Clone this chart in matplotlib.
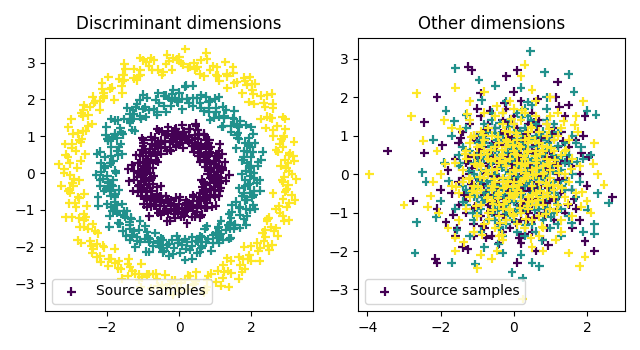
import numpy as np
import matplotlib
matplotlib.use("Agg")
import matplotlib.pyplot as plt

# ---------------- Discriminant dimensions (rings), polar readings ----------------
ang_c1 = [1,3,4,8,10,12,13,17,19,20,22,25,27,28,31,33,35,36,39,41,
          43,44,47,49,50,53,55,57,58,61,63,64,67,69,71,72,75,77,79,80,
          83,85,86,89,91,93,95,96,99,101,103,104,107,109,111,113,114,117,119,120,
          123,125,127,128,131,133,134,137,139,141,142,145,147,149,150,153,155,157,158,161,
          163,164,167,169,171,172,175,177,179,180,183,185,187,188,191,193,194,197,199,201,
          202,205,207,209,210,213,215,216,219,221,223,224,227,229,231,232,235,237,239,240,
          243,245,246,249,251,253,254,257,259,261,262,265,267,269,270,273,275,276,279,281,
          283,284,287,289,291,292,295,297,299,300,303,305,306,309,311,313,314,317,319,321,
          322,325,327,329,330,333,335,336,339,341,343,344,347,349,351,352,355,357,359,6,
          15,24,38,52,66,88,97,110,126,144,160,174,189,206,226,248,264,286,308,338,
          2.5,7.5,11.5,18,23.5,29,34,40.5,45.5,51,56,60,65.5,70,74,78.5,84,90,94,98,
          102,106,112,115.5,121,124,130,135.5,138,143,148,152,156,159.5,166,170,176,181.5,186,190,
          196,200,204,208,212,218,222,225.5,230,234,238,242,247,250,256,260,263,268,272,277,
          280,285,290,294,298,302,307,310,315,318,324,328,332,337,340,346,350,354,358,5,
          14,32,48,68,92,118,140,168,198,228,252,278,296,320,342,26,76,132,184,236]
rad_c1 = [1.05,0.82,1.21,0.97,1.12,0.74,1.30,0.91,1.02,1.18,0.88,1.09,0.66,1.25,0.95,1.01,1.37,0.84,1.14,0.99,
          0.78,1.08,1.23,0.93,1.16,1.00,0.71,1.27,0.89,1.06,1.19,0.81,1.11,0.97,1.42,0.86,1.03,1.24,0.92,0.69,
          1.13,0.98,1.31,0.83,1.07,0.94,1.20,0.76,1.15,1.04,0.90,1.28,0.87,1.10,0.64,1.22,0.96,1.34,0.80,1.01,
          0.93,1.17,0.85,1.26,0.99,0.72,1.09,1.39,0.88,1.05,0.79,1.14,1.00,1.21,0.91,0.67,1.12,0.95,1.29,0.84,
          1.06,0.97,1.18,0.75,1.33,0.90,1.03,1.24,0.82,1.10,0.98,1.16,0.70,1.27,0.94,1.08,0.86,1.19,1.02,1.36,
          0.77,1.13,0.92,1.05,1.23,0.89,0.63,1.15,1.00,1.30,0.85,1.07,0.96,1.20,0.81,1.11,1.44,0.93,1.04,0.73,
          1.17,0.99,1.26,0.87,1.09,0.78,1.14,1.01,1.32,0.90,0.68,1.22,0.97,1.06,0.83,1.19,0.95,1.12,1.38,0.88,
          1.03,0.76,1.25,0.92,1.10,0.99,1.16,0.84,1.29,1.02,0.71,1.08,0.94,1.21,0.86,1.13,1.00,0.80,1.35,0.96,
          1.07,0.89,1.18,0.74,1.27,0.98,1.11,0.82,1.04,1.23,0.91,0.65,1.15,0.97,1.31,0.87,1.09,1.01,0.79,1.20,
          0.93,1.14,1.05,0.85,1.28,0.95,0.72,1.12,1.00,1.24,0.88,1.06,1.40,0.90,1.17,0.83,1.03,0.97,1.19,0.77,
          0.96,1.19,0.79,1.08,1.31,0.88,1.02,0.70,1.15,0.93,1.24,0.85,1.06,1.37,0.91,0.99,1.13,0.76,1.21,1.00,
          0.87,1.10,0.68,1.27,0.95,1.04,1.17,0.82,1.33,0.92,1.07,0.74,1.20,0.98,1.12,0.86,1.41,0.94,1.03,0.78,
          1.16,0.90,1.25,1.01,0.72,1.14,0.97,1.29,0.84,1.09,0.93,1.22,0.80,1.05,1.35,0.89,1.11,0.99,0.66,1.18,
          1.02,0.83,1.26,0.95,1.08,0.77,1.19,0.91,1.30,1.00,0.86,1.13,0.97,1.23,0.73,1.06,0.94,1.16,1.39,0.88,
          1.04,0.81,1.20,0.96,1.10,0.69,1.28,0.92,1.15,1.01,0.85,1.07,1.34,0.90,1.12,0.79,1.24,0.98,1.03,0.87]

ang_c2 = [0,2,5,6,9,11,12,16,18,21,23,24,26,30,32,34,37,38,40,42,
          45,46,48,51,54,56,59,60,62,65,66,68,70,73,76,78,81,82,84,87,
          90,92,94,97,98,100,102,105,106,108,112,115,116,118,121,122,124,126,129,132,
          135,136,138,140,143,146,148,151,152,154,156,159,162,165,166,168,170,173,176,178,
          181,182,184,186,189,190,192,195,196,198,200,203,204,206,208,211,212,214,217,218,
          220,222,225,226,228,230,233,234,236,238,241,242,244,247,248,250,252,255,256,258,
          260,263,264,266,268,271,272,274,277,278,280,282,285,286,288,290,293,294,296,298,
          301,302,304,307,308,310,312,315,316,318,320,323,324,326,328,331,332,334,337,338,
          340,342,345,346,348,350,353,354,356,358,14,29,44,57,74,88,103,119,134,149,
          164,179,194,209,223,239,253,269,283,299,313,329,344,8,35,63,93,127,157,187,
          1,7.5,13.5,19.5,27.5,33,41,47,53,58,63.5,71.5,79.5,85.5,91,96,101,110,113.5,120,
          125,130.5,137,141.5,145,150,155,160.5,167,171.5,175,180,185,188,193,197.5,201.5,207,210,215.5,
          219,224,229,231.5,237,240,245.5,249,254,257,262,265.5,270,275,279,284,287,291.5,295,300,
          303,306,309,314,317,321.5,325,330,335,339,343,347,351.5,355,359,22,50,95,142,199,
          246,289,333,17,67,111,153,216,259,305,349,39,86,172,232,275.5,318.5,4,128,191]
rad_c2 = [2.08,1.85,2.19,1.96,2.31,1.79,2.04,2.12,1.90,2.25,1.72,2.01,2.15,1.88,2.36,1.97,2.07,1.83,2.22,1.93,
          2.11,1.76,2.28,2.00,1.89,2.17,1.68,2.05,2.33,1.94,2.13,1.81,2.21,1.99,2.09,1.86,2.40,1.92,2.03,1.74,
          2.18,1.95,2.27,1.84,2.06,2.14,1.70,2.24,1.98,2.10,1.87,2.35,1.91,2.02,1.78,2.20,2.16,1.82,2.29,1.97,
          1.93,2.12,1.75,2.23,2.04,1.88,2.38,1.96,2.08,1.80,2.15,2.01,1.66,2.26,1.94,2.11,1.85,2.19,2.06,1.77,
          2.30,1.99,2.13,1.83,2.21,1.91,2.07,1.73,2.34,2.00,1.89,2.17,1.95,2.09,1.79,2.25,2.03,1.86,2.42,1.92,
          2.14,1.81,2.22,1.98,2.05,1.69,2.28,1.90,2.10,2.18,1.84,2.02,1.96,2.32,1.76,2.12,1.93,2.07,1.87,2.20,
          1.99,2.26,1.82,2.04,1.71,2.16,1.95,2.37,1.89,2.11,2.00,1.78,2.23,1.94,2.08,1.85,2.29,1.97,2.13,1.64,
          2.06,1.91,2.19,1.83,2.27,2.01,1.74,2.15,1.96,2.09,1.88,2.33,1.80,2.03,2.21,1.92,2.10,1.77,2.24,1.98,
          1.86,2.14,2.05,1.72,2.30,1.93,2.17,1.84,2.07,1.99,2.39,1.90,2.12,1.79,2.20,2.02,1.87,2.26,1.95,2.08,
          1.75,2.18,1.97,2.11,1.82,2.35,2.00,1.89,2.22,1.94,2.06,1.70,2.16,1.91,2.28,1.85,2.04,2.13,1.81,1.98,
          1.97,2.21,1.84,2.09,2.32,1.90,2.03,1.73,2.16,1.95,2.26,1.87,2.07,2.38,1.92,2.00,2.14,1.78,2.23,2.01,
          1.88,2.11,1.69,2.28,1.96,2.05,2.18,1.83,2.34,1.93,2.08,1.75,2.20,1.99,2.13,1.86,2.41,1.94,2.04,1.79,
          2.17,1.91,2.25,2.02,1.72,2.15,1.98,2.30,1.85,2.10,1.94,2.22,1.81,2.06,2.36,1.89,2.12,2.00,1.67,2.19,
          2.03,1.84,2.27,1.96,2.09,1.77,2.20,1.92,2.31,2.01,1.87,2.14,1.98,2.24,1.74,2.07,1.95,2.17,2.39,1.89,
          2.05,1.82,2.21,1.97,2.11,1.70,2.29,1.93,2.16,2.02,1.86,2.08,2.35,1.91,2.13,1.80,2.25,1.99,2.04,1.88]

ang_c3 = [1,4,6,7,10,13,15,16,19,22,24,25,28,31,33,34,37,40,42,43,
          46,49,51,52,55,58,60,61,64,67,69,70,73,76,78,79,82,85,87,88,
          91,94,96,97,100,103,105,106,109,112,114,115,118,121,123,124,127,130,132,133,
          136,139,141,142,145,148,150,151,154,157,159,160,163,166,168,169,172,175,177,178,
          181,184,186,187,190,193,195,196,199,202,204,205,208,211,213,214,217,220,222,223,
          226,229,231,232,235,238,240,241,244,247,249,250,253,256,258,259,262,265,267,268,
          271,274,276,277,280,283,285,286,289,292,294,295,298,301,303,304,307,310,312,313,
          316,319,321,322,325,328,330,331,334,337,339,340,343,346,348,349,352,355,357,358,
          9,21,36,48,63,75,90,102,117,129,144,156,171,183,198,210,225,237,252,264,
          279,291,306,318,333,345,18,54,81,108,138,165,192,219,246,273,300,327,354,30,
          2.5,8.5,12,18.5,26.5,32,39,45,50,57,62.5,68,72,77,84,89,93,99,104,111,
          116,120,126,131,135,140,147,153,158,162,167,173,180,185,189,194,201,206,209,216,
          221,224,228,234,239,243,248,251,255,261,266,270,275,278,282,288,293,297,300,305,
          309,315,320,324,329,332,336,342,347,351,356,359.5,14,41,66,95,122,149,176,203,
          230,257,284,311,338,27,53,80,107,134,161,188,215,242,269,296,323,350,5,113]
rad_c3 = [3.04,2.83,3.21,2.95,3.12,2.76,3.30,2.90,3.07,3.18,2.86,3.01,3.25,2.93,2.70,3.14,2.98,3.35,2.81,3.09,
          2.97,3.22,2.79,3.05,3.16,2.88,2.67,3.11,3.00,3.28,2.85,3.06,2.94,3.19,2.74,3.13,3.02,2.89,3.38,2.96,
          3.08,2.82,3.24,2.99,2.72,3.15,2.91,3.03,3.31,2.87,3.10,2.78,3.20,2.95,3.06,2.84,3.27,3.00,2.69,3.13,
          2.92,3.17,3.04,2.80,3.23,2.97,3.09,2.75,3.33,2.90,3.01,3.14,2.86,3.26,2.93,2.65,3.11,3.05,2.83,3.19,
          3.02,2.77,3.29,2.96,3.07,2.88,3.16,2.99,2.71,3.21,3.03,2.85,3.12,2.94,3.36,2.81,3.08,2.98,3.24,2.89,
          3.15,2.73,3.00,3.19,2.92,3.06,2.84,3.28,2.97,2.68,3.10,3.02,2.87,3.22,2.95,3.13,2.79,3.04,3.32,2.91,
          2.98,3.17,2.82,3.07,2.74,3.25,3.01,2.90,3.14,2.86,3.39,2.96,3.09,2.78,3.20,3.03,2.93,3.11,2.70,3.27,
          3.05,2.88,3.16,2.99,2.83,3.23,2.94,3.08,2.76,3.30,3.00,2.85,3.12,2.97,2.66,3.18,3.02,2.89,3.26,2.92,
          3.10,2.80,3.21,3.04,2.95,2.72,3.15,2.87,3.34,2.98,3.06,2.84,3.19,2.93,3.01,2.77,3.24,3.09,2.90,3.13,
          2.96,3.28,2.82,3.03,2.75,3.17,2.99,3.11,2.86,3.22,2.94,3.07,2.69,3.14,3.00,2.91,3.31,2.85,3.05,2.97,
          2.98,3.20,2.81,3.07,3.29,2.89,3.02,2.73,3.15,2.94,3.24,2.86,3.05,3.36,2.91,2.99,3.12,2.77,3.22,3.00,
          2.87,3.09,2.68,3.26,2.95,3.04,3.17,2.83,3.32,2.92,3.06,2.75,3.19,2.97,3.11,2.85,3.37,2.93,3.03,2.79,
          3.16,2.90,3.25,3.01,2.71,3.14,2.96,3.28,2.84,3.08,2.93,3.21,2.80,3.05,3.33,2.88,3.10,2.99,2.67,3.18,
          3.02,2.82,3.27,2.95,3.08,2.76,3.19,2.91,3.30,3.00,2.86,3.13,2.97,3.23,2.74,3.06,2.94,3.16,3.35,2.88,
          3.04,2.81,3.20,2.96,3.10,2.70,3.27,2.92,3.15,3.01,2.85,3.07,3.31,2.90,3.12,2.79,3.24,2.98,3.03,2.87]

# ---------------- Other dimensions (noise), (x, y) readings ----------------
other_c1 = [(-3.45,0.6),(-2.75,-0.7),(-2.45,1.35),(-2.1,2.0),(-2.15,-2.2),(-2.1,-2.3),(-1.25,2.8),(-1.15,2.7),(0.1,2.7),(2.7,-0.6),
(2.2,-2.0),(1.95,-1.75),(0.1,-2.3),(-2.45,0.55),(-2.1,-0.9),(-1.85,-1.25),(-1.55,-1.4),(-1.4,-1.9),(-1.1,-1.6),(1.2,2.4),
(-0.2,2.55),(0.0,2.15),(0.65,1.95),(1.15,2.0),(1.95,1.5),(2.05,0.45),(1.5,0.7),(1.8,-1.2),(1.6,-1.4),(0.9,-1.4),
(0.3,-1.55),(-0.5,-1.05),(-0.9,-0.8),(-0.3,1.4),(0.4,0.9),(-0.7,0.3),(0.2,-0.4),(0.8,0.1),(-1.2,0.5),(1.1,-0.3),
(-0.1,0.05),(0.5,-0.8),(-0.4,-0.3),(1.3,1.1),(-1.5,-0.2),(0.7,1.4),(-0.8,1.0),(0.0,-1.0),(1.6,0.2),(-0.6,-1.6),
(0.3,0.4),(-0.2,-0.6),(0.9,0.6),(-1.0,-0.1),(0.6,-0.2),(-0.3,0.8),(1.2,-0.9),(-0.9,1.5),(0.1,1.2),(-1.3,-0.7),
(0.4,-1.2),(-0.5,0.1),(0.8,-0.5),(-0.1,0.6),(1.0,0.9),(-0.7,-0.4),(0.2,0.0),(-1.1,0.9),(0.5,0.3),(-0.4,-1.3),
(1.4,-0.1),(-0.2,1.7),(0.7,-1.0),(-1.6,0.4),(0.0,0.3),(0.9,-0.1),(-0.6,0.6),(0.3,-0.7),(-0.9,-1.1),(1.1,0.4),
(-0.3,-0.1),(0.6,1.1),(-1.2,-0.4),(0.2,-1.8),(1.7,0.9),(-0.8,0.0),(0.4,0.6),(-0.1,-0.4),(1.0,-0.7),(-0.5,1.2),
(0.0,0.9),(-1.4,1.1),(0.8,0.3),(-0.2,-0.9),(0.5,1.6),(-1.0,-0.6),(1.3,-0.5),(-0.6,-0.2),(0.1,-0.1),(0.9,1.3),
(-0.4,0.4),(0.3,1.0),(-1.7,-0.5),(0.7,-0.3),(-0.1,-1.4),(1.5,-0.8),(-0.8,0.7),(0.2,0.5),(-0.3,-0.8),(1.2,0.7),
(-1.0,0.2),(0.6,0.0),(-0.5,-0.7),(0.0,1.5),(1.8,0.0),(-1.3,-1.0),(0.4,-0.3),(-0.7,1.3),(0.9,-0.9),(-0.2,0.2),
(0.5,-1.5),(-1.1,-1.3),(1.0,0.1),(-0.4,0.9),(0.2,-0.6),(-0.9,0.4),(1.4,1.5),(-0.1,-0.2),(0.7,0.8),(-1.5,0.8),
(0.3,0.1),(-0.6,-1.0),(1.1,-1.2),(-0.3,0.5),(0.8,-1.7),(-1.2,1.3),(0.0,-0.5),(0.6,0.5),(-0.8,-0.3),(1.6,-0.4),
(-0.2,1.1),(0.4,-1.0),(-1.4,-0.1),(0.9,0.9),(-0.5,-0.5),(0.1,0.8),(1.3,0.3),(-1.0,1.7),(0.5,-0.1),(-0.7,-0.8),
(2.0,-0.3),(-1.8,0.1),(0.2,1.9),(-0.4,-1.8),(1.9,1.0),(-2.0,-0.4),(0.6,-2.0),(-0.9,2.1),(1.5,1.8),(-1.6,-1.6),
(0.0,0.0),(0.3,-0.2),(-0.2,0.3),(0.7,0.2),(-0.6,0.8),(0.4,1.3),(-1.1,-0.9),(1.0,-0.4),(-0.3,-1.1),(0.8,1.0),
(-0.5,0.5),(0.1,-0.8),(1.2,0.0),(-0.9,-0.5),(0.5,0.7),(-0.1,1.0),(0.9,-0.6),(-1.3,0.3),(0.2,-1.2),(-0.4,-0.1),
(1.1,1.2),(-0.8,-1.4),(0.6,-0.7),(-0.2,0.7),(1.4,-1.0),(-1.2,0.0),(0.3,0.7),(-0.6,-0.6),(0.8,-0.2),(0.0,1.3),
(-1.0,1.0),(0.4,0.2),(-0.3,-1.5),(1.7,-0.9),(-0.7,0.2),(0.1,0.4),(1.0,0.6),(-1.5,-0.8),(0.5,-0.4),(-0.1,-0.7),
(0.15,0.35),(-0.45,0.75),(0.65,-0.35),(-0.85,-0.25),(1.05,0.45),(-0.25,-0.65),(0.35,1.05),(-1.15,0.15),(0.85,-0.75),(-0.05,-0.15),
(0.55,0.55),(-0.65,-0.95),(1.25,-0.15),(-0.35,0.25),(0.05,-1.25),(-0.95,0.65),(0.75,0.95),(-0.15,1.35),(1.45,0.35),(-1.35,-0.55),
(0.25,-0.45),(-0.55,-0.05),(0.95,-0.35),(-0.75,1.15),(0.45,0.15),(-0.05,0.85),(1.15,-0.65),(-1.05,-0.85),(0.65,1.25),(-0.25,-1.05),
(0.35,-0.95),(-0.45,-0.35),(0.85,0.45),(-1.25,0.35),(0.15,0.65),(-0.65,0.45),(1.35,0.85),(-0.15,-0.45),(0.55,-1.15),(-0.85,-1.35),
(0.05,0.15),(-0.35,1.05),(0.75,-0.05),(-1.45,0.95),(1.05,1.05),(-0.55,-0.75),(0.25,0.85),(-0.95,-0.15),(0.45,-0.65),(-0.15,0.45),
(1.65,-0.65),(-1.65,-1.05),(0.15,-1.65),(-0.25,1.85),(1.85,0.55),(-1.95,0.75),(0.95,-1.85),(-1.25,-1.95),(1.25,1.75),(-0.75,-1.65),
(0.35,0.25),(-0.45,0.15),(0.65,0.75),(-0.75,-0.55),(0.15,-0.25),(-0.15,0.95),(0.95,0.15),(-1.05,0.45),(0.45,-0.45),(-0.35,-0.85),
(0.55,1.35),(-0.65,1.65),(1.15,0.25),(-1.15,-0.25),(0.25,-0.85),(-0.05,0.25),(0.85,-1.05),(-0.85,0.85),(0.05,0.55),(-0.55,0.35)]

other_c2 = [(0.45,3.2),(-1.6,2.75),(2.6,-0.75),(-2.7,-2.05),(-1.7,-2.3),(-1.05,-2.35),(-0.05,-2.55),(0.25,-2.7),(-2.65,-1.25),(2.25,1.55),
(1.5,2.6),(0.85,2.65),(-0.95,2.45),(1.65,2.15),(2.0,1.65),(-1.85,1.65),(-2.5,0.05),(-2.4,-0.2),(2.2,-1.3),(2.2,-1.55),
(1.3,-1.6),(0.7,-2.4),(0.2,-2.1),(-0.3,-2.05),(-1.55,-1.45),(-1.9,0.3),(-1.3,1.55),(0.2,2.25),(-0.2,1.9),(1.85,0.7),
(1.9,0.4),(1.7,0.8),(1.4,0.3),(1.6,-0.4),(0.9,1.7),(0.6,1.3),(-0.6,1.6),(-1.1,1.0),(-0.8,0.4),(-0.3,0.9),
(0.3,0.5),(0.8,-0.2),(-0.5,-0.8),(0.1,-0.9),(1.1,-1.0),(-1.3,-0.8),(-0.9,-1.5),(0.5,-1.3),(-0.1,-1.1),(0.4,0.0),
(-0.2,0.1),(0.7,0.6),(-0.7,-0.3),(1.0,0.2),(-1.0,-0.1),(0.2,1.0),(-0.4,0.5),(0.9,-0.6),(-0.6,-1.0),(0.0,0.4),
(1.2,1.1),(-1.2,0.6),(0.5,-0.5),(-0.3,-0.4),(0.6,1.0),(-0.9,0.9),(1.3,-0.3),(0.1,-0.3),(-0.5,1.2),(0.8,0.3),
(-1.4,-0.3),(0.3,-1.6),(1.5,-1.1),(-0.2,-1.3),(0.4,1.5),(-1.1,-1.2),(0.9,0.9),(-0.7,0.0),(0.2,-0.6),(1.1,0.5),
(-0.4,-0.6),(0.0,0.8),(0.7,-0.9),(-0.8,1.3),(1.6,0.0),(-1.5,0.2),(0.5,0.4),(-0.1,-0.1),(1.0,-1.4),(-0.6,0.7),
(0.3,1.2),(-1.0,-0.6),(0.8,-0.1),(-0.3,0.3),(1.4,0.8),(-0.9,-0.9),(0.1,0.6),(0.6,-0.8),(-0.2,-0.8),(1.2,-0.6),
(-1.3,1.2),(0.4,-0.2),(-0.5,0.0),(0.9,1.4),(-0.1,1.4),(0.2,-1.0),(1.7,-0.6),(-0.7,-1.2),(0.5,0.9),(-1.1,0.3),
(0.0,-0.4),(0.7,0.1),(-0.4,1.0),(1.0,0.7),(-0.8,-0.5),(0.3,-0.3),(1.3,-0.9),(-0.2,0.6),(0.6,-1.5),(-1.6,-0.9),
(0.1,0.2),(-0.6,-0.2),(0.8,1.1),(-1.0,0.5),(1.5,0.5),(-0.3,-1.6),(0.4,0.7),(-0.9,0.1),(1.1,-0.2),(0.0,1.1),
(-0.5,-1.2),(0.9,0.0),(-1.2,-0.5),(0.2,0.3),(1.8,-0.2),(-0.1,-0.6),(0.6,0.2),(-0.7,0.5),(1.2,0.4),(-0.4,-0.9),
(0.5,1.8),(-1.4,0.7),(0.3,-0.9),(1.0,1.0),(-0.2,-0.2),(0.7,-0.4),(-0.8,0.8),(0.1,-1.5),(1.4,-0.4),(-1.0,-1.0),
(0.4,0.1),(-0.3,1.6),(0.8,-1.2),(-0.6,0.3),(1.1,0.9),(-1.2,-1.6),(0.0,-0.7),(0.6,0.7),(-0.5,-0.4),(1.6,1.0),
(2.1,0.5),(-2.0,-0.7),(0.9,2.0),(-0.8,-1.9),(1.9,-1.5),(-1.7,1.0),(0.5,-2.3),(-0.5,2.3),(2.3,-0.5),(-2.2,0.9),
(0.2,0.8),(-0.1,0.0),(0.7,-0.7),(-0.9,-0.2),(1.3,0.1),(-0.4,-1.4),(0.3,1.7),(-1.1,0.0),(0.9,-1.0),(0.0,0.5),
(-0.7,1.1),(1.0,-0.5),(-0.2,-1.0),(0.5,0.0),(-1.3,-0.4),(0.8,0.5),(-0.5,0.6),(1.2,-1.3),(0.1,1.6),(-0.3,-0.3),
(0.6,-0.1),(-0.8,-0.7),(1.5,0.3),(-1.5,0.5),(0.2,-0.5),(-0.6,1.4),(1.1,1.3),(0.4,-0.6),(-1.0,0.8),(0.0,-1.2),
(-0.12,0.32),(0.42,-0.78),(-0.68,0.12),(0.88,0.62),(-0.28,-0.52),(0.18,1.12),(-1.02,-0.38),(0.62,-0.12),(-0.48,0.88),(1.12,-0.48),
(0.02,-0.72),(-0.82,0.52),(0.38,0.38),(-0.22,-1.18),(0.72,1.02),(-1.22,0.08),(0.92,-0.88),(-0.58,-0.62),(0.28,0.72),(-0.08,0.02),
(1.32,0.48),(-1.38,-0.72),(0.52,-0.32),(-0.38,1.32),(0.12,-0.08),(-0.72,-0.18),(0.82,0.22),(-0.18,0.58),(1.02,-1.12),(-0.92,1.02),
(0.32,-1.32),(-0.52,-0.28),(0.68,0.48),(-1.12,-1.02),(0.08,0.92),(-0.42,-0.92),(1.22,0.72),(-0.02,-0.38),(0.48,1.42),(-1.32,0.62),
(0.22,-0.52),(-0.62,0.72),(0.98,-0.28),(-0.32,0.18),(0.58,-0.92),(-0.88,-0.72),(0.18,0.18),(-0.12,1.22),(1.42,-0.18),(-1.48,0.28),
(1.72,0.32),(-1.78,-0.18),(0.38,1.88),(-0.42,-1.82),(1.58,-1.28),(-1.62,1.38),(0.78,-1.72),(-0.88,1.92),(2.02,-0.92),(-2.12,-1.12),
(0.28,0.02),(-0.28,-0.12),(0.62,0.32),(-0.68,-0.42),(0.08,-0.98),(-0.08,0.68),(0.92,0.82),(-0.98,0.32),(0.42,-0.18),(-0.52,1.08),
(1.08,0.08),(-1.08,-0.58),(0.22,1.48),(-0.22,-0.78),(0.72,-0.58),(-0.78,0.92),(0.52,0.12),(-0.38,-1.38),(1.18,-0.78),(-0.02,0.42)]

other_c3 = [(-3.95,0.0),(-3.0,-0.8),(-2.65,2.1),(-2.8,1.5),(0.3,2.85),(0.25,-3.25),(1.8,-2.4),(1.5,-2.05),(2.3,0.0),(-1.0,-2.45),
(2.0,-0.7),(1.95,-2.15),(1.7,1.5),(-1.6,2.25),(-1.2,1.9),(-0.8,2.15),(0.2,2.55),(-2.2,-0.2),(-2.35,-0.85),(-2.05,-1.0),
(-1.6,-1.65),(-1.6,-2.0),(-0.45,-2.0),(0.8,-2.0),(1.15,-1.7),(1.85,-0.85),(1.75,1.1),(-2.1,0.6),(-1.7,1.2),(1.2,1.6),
(0.6,1.5),(-0.3,1.6),(0.0,1.3),(-0.8,0.9),(0.4,0.6),(-0.2,0.2),(0.8,0.0),(-0.6,-0.4),(0.2,-0.7),(1.0,-0.9),
(-1.1,-0.3),(0.5,-1.2),(-0.4,-1.1),(1.3,0.5),(-1.3,0.6),(0.1,0.9),(0.9,1.0),(-0.9,-0.8),(0.3,-0.1),(-0.1,-0.5),
(0.6,0.3),(-0.5,0.4),(1.1,-0.4),(-1.0,0.2),(0.0,-0.2),(0.7,0.8),(-0.3,-0.9),(1.4,-0.6),(-0.7,1.2),(0.4,1.1),
(-1.2,-0.6),(0.2,0.1),(0.9,-0.5),(-0.2,0.7),(1.2,0.2),(-0.8,-0.1),(0.5,-0.3),(-0.4,0.8),(0.1,-1.3),(-1.4,0.1),
(0.8,0.6),(-0.1,1.1),(1.0,0.3),(-0.6,-0.7),(0.3,0.4),(-0.9,0.5),(1.5,-0.2),(0.0,0.6),(-0.3,-0.2),(0.6,-0.8),
(-1.1,1.0),(0.4,-0.6),(1.1,0.9),(-0.5,-1.4),(0.2,1.4),(-0.7,0.0),(0.9,0.4),(-1.5,-0.5),(0.1,-0.4),(0.7,-1.1),
(-0.2,-0.7),(1.3,1.2),(-0.8,0.6),(0.5,0.1),(-0.1,0.0),(1.6,0.4),(-1.0,-1.1),(0.3,0.9),(-0.4,0.3),(0.8,-0.6),
(-1.3,-0.9),(0.0,1.7),(1.0,-0.1),(-0.6,1.0),(0.4,-0.9),(-0.2,-1.2),(1.2,-0.8),(-0.9,0.2),(0.6,0.6),(-0.3,0.5),
(0.1,0.3),(-1.6,0.3),(0.9,1.3),(-0.5,-0.2),(0.3,-1.4),(1.4,0.0),(-0.7,-0.6),(0.2,0.7),(-1.2,0.8),(0.7,-0.2),
(-0.1,-0.9),(1.1,0.6),(-0.8,-1.3),(0.5,1.2),(-0.4,-0.5),(0.0,0.1),(1.7,-0.5),(-1.0,0.7),(0.4,-0.1),(-0.3,1.3),
(0.8,-1.4),(-0.6,0.1),(1.2,1.0),(-1.4,-0.2),(0.2,-0.5),(-0.2,0.9),(0.6,-0.5),(-0.9,-0.4),(1.0,0.1),(0.1,1.0),
(-0.5,0.7),(0.9,-0.3),(-1.1,-1.5),(0.3,0.2),(1.5,0.9),(-0.7,-1.0),(0.0,-0.6),(0.7,1.1),(-1.3,0.4),(0.5,-0.7),
(-0.1,0.4),(1.3,-1.2),(-0.4,-0.8),(0.8,0.2),(-0.8,1.6),(0.2,-1.0),(1.1,-0.6),(-1.2,-0.1),(0.4,0.8),(-0.3,-0.1),
(2.1,-1.0),(-2.0,0.0),(1.0,2.0),(-0.9,-2.1),(2.2,0.8),(-1.8,-1.4),(0.5,2.2),(-0.6,-2.2),(1.9,1.9),(-1.9,1.4),
(0.6,0.0),(-0.2,-0.3),(0.9,0.7),(-0.7,0.4),(1.2,-0.3),(0.0,-1.1),(-1.0,-0.5),(0.3,1.6),(0.7,-1.6),(-0.5,1.5),
(1.4,0.6),(-0.3,-1.7),(0.1,0.5),(-1.1,0.5),(0.8,-0.8),(-0.6,-0.3),(1.6,-1.1),(0.4,0.3),(-0.9,1.1),(0.2,-0.2),
(1.0,1.5),(-1.5,-1.2),(0.5,-1.9),(-0.1,1.9),(1.8,0.2),(-1.7,-0.3),(0.6,1.9),(-0.4,-1.6),(1.3,-1.5),(-1.2,1.4),
(0.13,-0.27),(-0.37,0.43),(0.63,0.17),(-0.73,-0.63),(0.93,-0.57),(-0.17,0.83),(0.37,-0.83),(-0.93,0.27),(0.77,0.73),(-0.53,-0.13),
(0.03,0.53),(-1.13,-0.43),(1.23,0.03),(-0.27,-0.77),(0.47,1.23),(-0.83,1.03),(0.87,-1.03),(-0.03,-0.33),(0.57,0.47),(-0.63,0.63),
(1.03,0.67),(-1.03,-0.83),(0.23,0.27),(-0.43,-0.53),(0.73,-0.43),(-0.23,1.13),(1.33,-0.37),(-1.33,0.53),(0.33,-1.17),(-0.67,-1.17),
(0.07,0.07),(-0.47,0.13),(0.67,-0.67),(-0.87,0.77),(1.13,0.37),(-0.13,-0.63),(0.43,0.93),(-1.23,-0.13),(0.83,0.03),(-0.33,0.63),
(0.27,-0.13),(-0.57,-0.93),(1.43,0.63),(-0.07,1.43),(0.53,-0.53),(-0.97,-0.33),(0.97,1.17),(-0.43,0.97),(0.17,-0.87),(-0.77,0.07),
(0.63,0.37),(-0.17,-0.17),(1.17,-0.97),(-1.17,0.97),(0.37,0.57),(-0.37,-1.27),(0.87,-0.23),(-0.63,0.33),(0.07,1.07),(-0.03,-1.03),
(1.57,0.13),(-1.57,-0.33),(0.23,1.67),(-0.33,-1.57),(1.47,-0.77),(-1.47,1.17),(0.77,-1.37),(-0.87,-1.57),(1.37,1.37),(-1.27,1.57),
(0.33,0.03),(-0.23,0.33),(0.53,-0.03),(-0.53,-0.33),(0.13,0.73),(-0.13,-0.93),(0.73,0.53),(-0.73,0.53),(0.43,-0.73),(-0.43,-0.63),
(0.93,0.27),(-0.93,-0.07),(0.03,-0.53),(-0.03,0.77),(1.07,-0.27),(-1.07,0.27),(0.57,0.87),(-0.57,-0.77),(0.27,0.47),(-0.27,-0.37),
(1.87,-0.47),(-1.87,0.27),(0.47,-1.67),(-0.47,1.77),(2.17,0.27),(-2.27,-0.57),(1.67,1.27),(-1.37,-1.77),(2.47,-0.27),(-2.47,0.87)]

class_ids = [1, 2, 3]
titles = ["Discriminant dimensions", "Other dimensions"]
legend_label = "Source samples"

# ---- assemble data ----
ring_x, ring_y, ring_c = [], [], []
for cid, ang, rad in zip(class_ids, [ang_c1, ang_c2, ang_c3], [rad_c1, rad_c2, rad_c3]):
    a = np.deg2rad(np.array(ang, dtype=float))
    r = np.array(rad, dtype=float)
    n = min(len(a), len(r))
    ring_x.append(r[:n] * np.cos(a[:n]))
    ring_y.append(r[:n] * np.sin(a[:n]))
    ring_c.append(np.full(n, cid))
ring_x = np.concatenate(ring_x); ring_y = np.concatenate(ring_y); ring_c = np.concatenate(ring_c)

oth_x, oth_y, oth_c = [], [], []
for cid, pts in zip(class_ids, [other_c1, other_c2, other_c3]):
    p = np.array(pts, dtype=float)
    oth_x.append(p[:, 0]); oth_y.append(p[:, 1]); oth_c.append(np.full(len(p), cid))
oth_x = np.concatenate(oth_x); oth_y = np.concatenate(oth_y); oth_c = np.concatenate(oth_c)

fig = plt.figure(figsize=(6.4, 3.5), dpi=100)
ax1 = fig.add_axes([45/640, 1-311/350, (312.5-45)/640, (311-37.7)/350])
ax2 = fig.add_axes([358.3/640, 1-311/350, (625.3-358.3)/640, (311-37.7)/350])

ax1.scatter(ring_x, ring_y, c=ring_c, marker='+', cmap='viridis', vmin=1, vmax=3,
            s=40, linewidths=1.6, label=legend_label)
ax1.set_xlim(-3.72, 3.70)
ax1.set_ylim(-3.75, 3.68)
ax1.set_title(titles[0])
ax1.legend(loc='lower left')

ax2.scatter(oth_x, oth_y, c=oth_c, marker='+', cmap='viridis', vmin=1, vmax=3,
            s=40, linewidths=1.6, label=legend_label)
ax2.set_xlim(-4.25, 3.05)
ax2.set_ylim(-3.56, 3.55)
ax2.set_title(titles[1])
ax2.legend(loc='lower left')

fig.savefig("out.png", dpi=100)
